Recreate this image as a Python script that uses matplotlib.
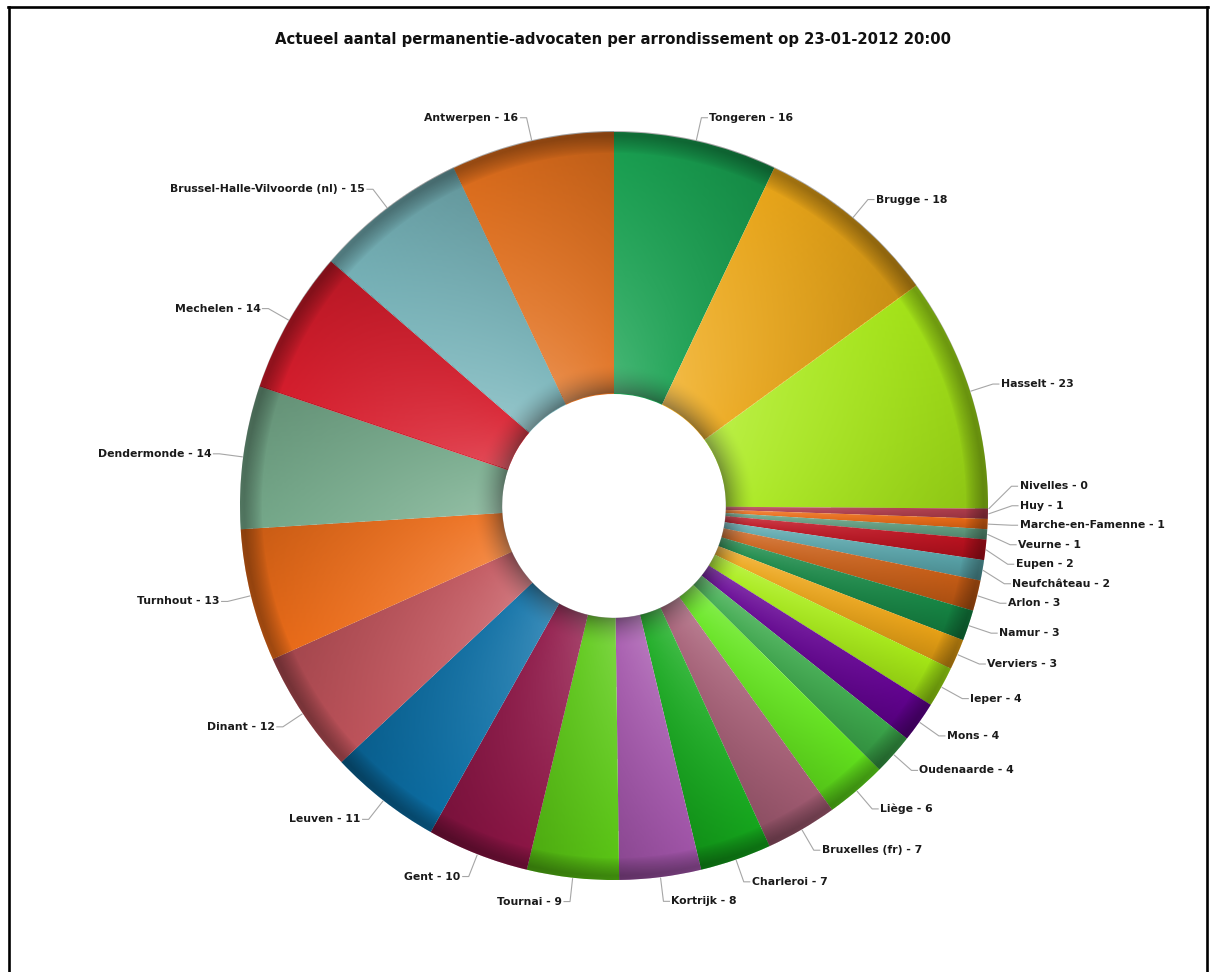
import numpy as np
import matplotlib
matplotlib.use("Agg")
import matplotlib.pyplot as plt
from matplotlib.lines import Line2D

# ---------------- data ----------------
title = "Actueel aantal permanentie-advocaten per arrondissement op 23-01-2012 20:00"
names = ["Tongeren", "Brugge", "Hasselt", "Nivelles", "Huy", "Marche-en-Famenne",
         "Veurne", "Eupen", "Neufchâteau", "Arlon", "Namur", "Verviers", "Ieper",
         "Mons", "Oudenaarde", "Liège", "Bruxelles (fr)", "Charleroi", "Kortrijk",
         "Tournai", "Gent", "Leuven", "Dinant", "Turnhout", "Dendermonde",
         "Mechelen", "Brussel-Halle-Vilvoorde (nl)", "Antwerpen"]
values = [16, 18, 23, 0, 1, 1, 1, 2, 2, 3, 3, 3, 4, 4, 4, 6, 7, 7, 8, 9, 10,
          11, 12, 13, 14, 14, 15, 16]
colors = ["#18a452", "#f0aa18", "#aaec18", "#7030a0", "#b43c4c", "#f06c14",
          "#62a082", "#c0101e", "#5aa8ae", "#cc5e14", "#148844", "#f0a614",
          "#aaf014", "#640094", "#3cac4c", "#64ea1c", "#a85e76", "#14ac1c",
          "#a656ae", "#5ccc14", "#901446", "#0a70a8", "#c4545c", "#f26e18",
          "#78ae8e", "#dc1c2c", "#78b6bc", "#e4701c"]

# ---------------- layout (pixels) ----------------
W, H = 1218, 972
CX, CYP = 614, 506          # centre in pixel coords (y down)
R, RIN = 374, 112
RL = 398                    # label elbow radius
GAP = 19.5                  # min vertical label spacing


def yd(ypx):
    return H - ypx


fig = plt.figure(figsize=(W / 100, H / 100), dpi=100)
ax = fig.add_axes([0, 0, 1, 1])
CY = yd(CYP)

wedges, _ = ax.pie(values, colors=colors, startangle=90, counterclock=False,
                   radius=R, center=(CX, CY), frame=True,
                   wedgeprops=dict(width=R - RIN, linewidth=0, edgecolor="none"))

# ---------- lighting overlay (semi-transparent shading layer over the slices) ----------
total = float(sum(values))
cum = np.cumsum([0] + values)
bounds = cum / total * 2 * np.pi            # clockwise from top

N = 2 * R
px = np.arange(N) + 0.5 - R                  # pixel centres relative to centre
X, Y = np.meshgrid(px, px)                   # Y up (origin lower)
rr = np.hypot(X, Y)
th = np.mod(np.arctan2(X, Y), 2 * np.pi)     # clockwise from north
idx = np.clip(np.searchsorted(bounds, th, side="right") - 1, 0, len(values) - 1)
a0 = bounds[idx]
a1 = bounds[idx + 1]
F = np.clip((th - a0) / np.maximum(a1 - a0, 1e-9), 0, 1)
T = np.clip((rr - RIN) / (R - RIN), 0, 1)

aw = 0.22 * (1 - T) ** 1.2 * (1 - 0.6 * F)
ab = 0.15 * T * (0.3 + 0.9 * F)
shadow = np.where(T < 0.11, 0.45 * np.clip(1 - T / 0.11, 0, 1) ** 1.6, 0.0)
u = np.clip((T - 0.915) / 0.085, 0, 1)
rim = np.where(T > 0.915, 0.36 * u ** 0.8 * (1 - 0.25 * np.clip((u - 0.8) / 0.2, 0, 1)), 0.0)
dark = 1 - (1 - ab) * (1 - shadow) * (1 - rim)
alpha = 1 - (1 - dark) * (1 - aw)
gray = np.where(alpha > 1e-6, aw / np.maximum(alpha, 1e-6), 0.0)
cover = np.clip(R - rr + 0.5, 0, 1) * np.clip(rr - RIN + 0.8, 0, 1)
alpha = alpha * cover
img = np.dstack([gray, gray, gray, alpha])
ax.imshow(img, extent=(CX - R, CX + R, CY - R, CY + R), origin="lower",
          interpolation="nearest", zorder=2)

ax.set_xlim(0, W)
ax.set_ylim(0, H)
ax.set_aspect("auto")
ax.axis("off")

# ---------- labels ----------
mids = [(cum[i] + cum[i + 1]) / 2 / total * 2 * np.pi for i in range(len(values))]
items = []
for i, tm in enumerate(mids):
    side = 1 if np.sin(tm) >= 0 else -1
    items.append(dict(i=i, th=tm, side=side, ny=CYP - RL * np.cos(tm)))


def resolve(group):
    group = sorted(group, key=lambda d: d["ny"])
    clusters = [[d] for d in group]

    def place(cl):
        m = np.mean([d["ny"] for d in cl])
        top = m - (len(cl) - 1) * GAP / 2
        return top, top + (len(cl) - 1) * GAP

    changed = True
    while changed:
        changed = False
        for k in range(len(clusters) - 1):
            _, b0 = place(clusters[k])
            t1, _ = place(clusters[k + 1])
            if t1 - b0 < GAP:
                clusters[k] = clusters[k] + clusters[k + 1]
                del clusters[k + 1]
                changed = True
                break
    for cl in clusters:
        top, _ = place(cl)
        for j, d in enumerate(cl):
            d["y"] = top + j * GAP


resolve([d for d in items if d["side"] > 0])
resolve([d for d in items if d["side"] < 0])

for d in items:
    tm, s, y = d["th"], d["side"], d["y"]
    dy = y - CYP
    ex = CX + s * np.sqrt(max(RL ** 2 - dy ** 2, 0))
    if abs(y - d["ny"]) < 0.5:
        ex = CX + RL * np.sin(tm)
    ax0 = CX + (R + 1) * np.sin(tm)
    ay0 = CYP - (R + 1) * np.cos(tm)
    xs = [ax0, ex, ex + s * 6]
    ys = [yd(ay0), yd(y), yd(y)]
    ax.add_line(Line2D(xs, ys, color="#a6a6a6", lw=0.8, zorder=3))
    ax.text(ex + s * 8, yd(y), f"{names[d['i']]} - {values[d['i']]}",
            ha="left" if s > 0 else "right", va="center", fontsize=7.8,
            fontweight="bold", color="#1a1a1a", family="DejaVu Sans", zorder=4)

# ---------- title ----------
ax.text(613, yd(40), title, ha="center", va="center", fontsize=10.7,
        fontweight="bold", color="#111111", family="DejaVu Sans")

# ---------- frame border ----------
ax.add_line(Line2D([9, 9], [yd(7), yd(980)], color="black", lw=1.9))
ax.add_line(Line2D([8, 1208], [yd(7.5), yd(7.5)], color="black", lw=1.9))
ax.add_line(Line2D([1207, 1207], [yd(7), yd(980)], color="black", lw=1.9))

fig.savefig("out.png", dpi=100, facecolor="white")
